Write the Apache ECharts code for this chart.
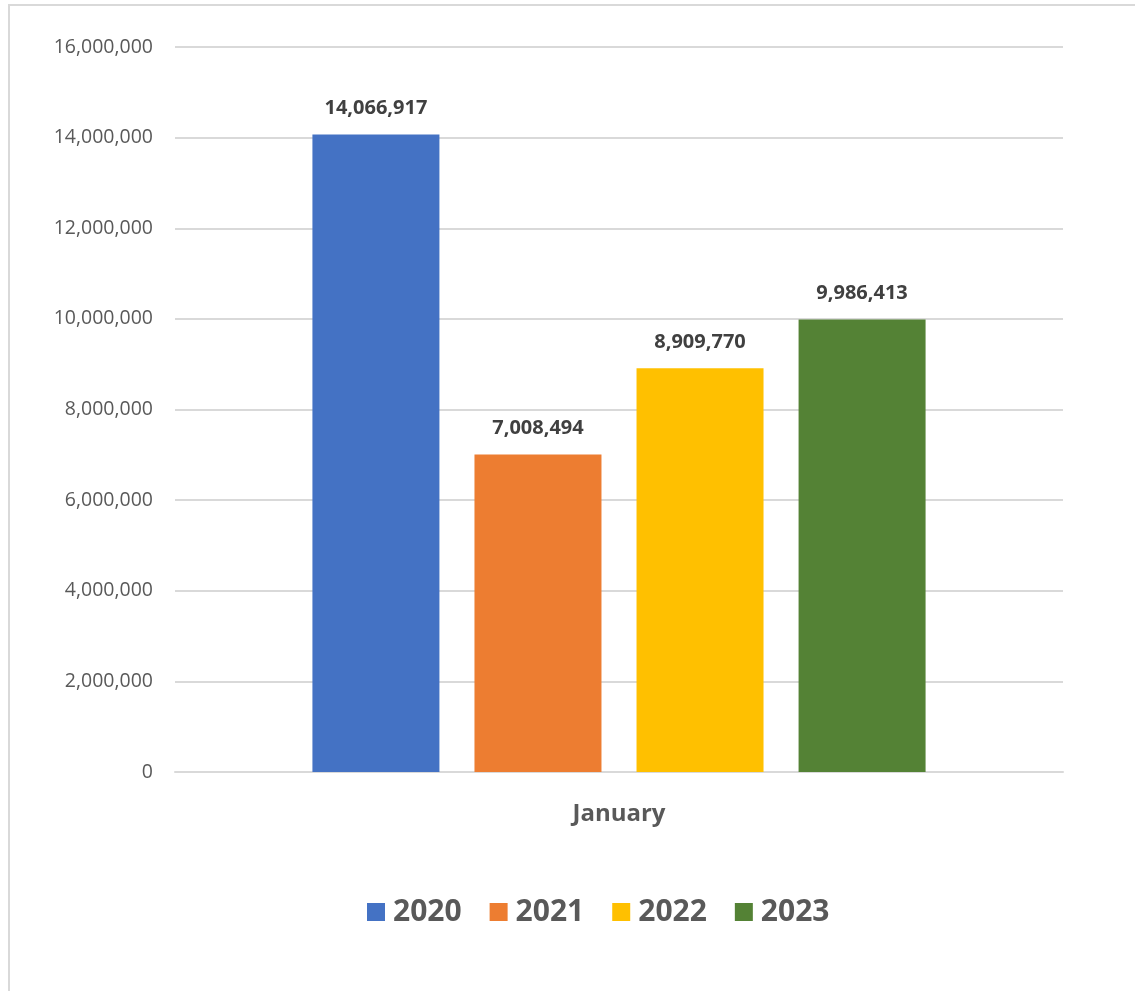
<!DOCTYPE html>
<html><head><meta charset="utf-8">
<script src="https://cdn.jsdelivr.net/npm/echarts@6/dist/echarts.min.js"></script>
<style>
html,body{margin:0;padding:0;background:#fff;}
#frame{position:absolute;left:8px;top:4px;width:1127px;height:987px;border-left:2px solid #d9d9d9;border-top:2px solid #d9d9d9;box-sizing:border-box;}
#c{position:absolute;left:0;top:0;width:1135px;height:991px;}
</style></head>
<body>
<div id="frame"></div>
<div id="c"></div>
<script>
const categories = ['January'];
const seriesNames = ['2020', '2021', '2022', '2023'];
const values2020 = [14066917];
const values2021 = [7008494];
const values2022 = [8909770];
const values2023 = [9986413];
const colors = ['#4472C4', '#ED7D31', '#FFC000', '#548235'];
const allValues = [values2020, values2021, values2022, values2023];

const fmt = v => Number(v).toLocaleString('en-US');
const font = 'Open Sans, Noto Sans, Liberation Sans, sans-serif';

const chart = echarts.init(document.getElementById('c'));
chart.setOption({
  animation: false,
  backgroundColor: 'transparent',
  grid: {left: 175, right: 72, top: 47, bottom: 219, containLabel: false},
  legend: {
    bottom: 59, left: 362,
    itemWidth: 18, itemHeight: 18, itemGap: 28,
    icon: 'rect',
    textStyle: {fontSize: 30, fontWeight: 'bold', color: '#595959', fontFamily: font, padding: [0, 0, 0, 3]},
    data: seriesNames
  },
  xAxis: {
    type: 'category', data: categories,
    axisLine: {lineStyle: {color: '#d9d9d9', width: 2}},
    axisTick: {show: false},
    axisLabel: {fontSize: 24, fontWeight: 'bold', color: '#595959', margin: 30, fontFamily: font}
  },
  yAxis: {
    type: 'value', min: 0, max: 16000000, interval: 2000000,
    axisLine: {show: false}, axisTick: {show: false},
    splitLine: {lineStyle: {color: '#d9d9d9', width: 2}},
    axisLabel: {fontSize: 19.5, color: '#595959', margin: 22, fontFamily: font, formatter: fmt}
  },
  series: seriesNames.map((n, i) => ({
    name: n, type: 'bar', data: allValues[i],
    barWidth: 127, barGap: '27.6%',
    itemStyle: {color: colors[i]},
    label: {show: true, position: 'top', distance: 16, formatter: p => fmt(p.value),
      fontSize: 20, fontWeight: 'bold', color: '#404040', fontFamily: font}
  }))
});
</script>
</body></html>
